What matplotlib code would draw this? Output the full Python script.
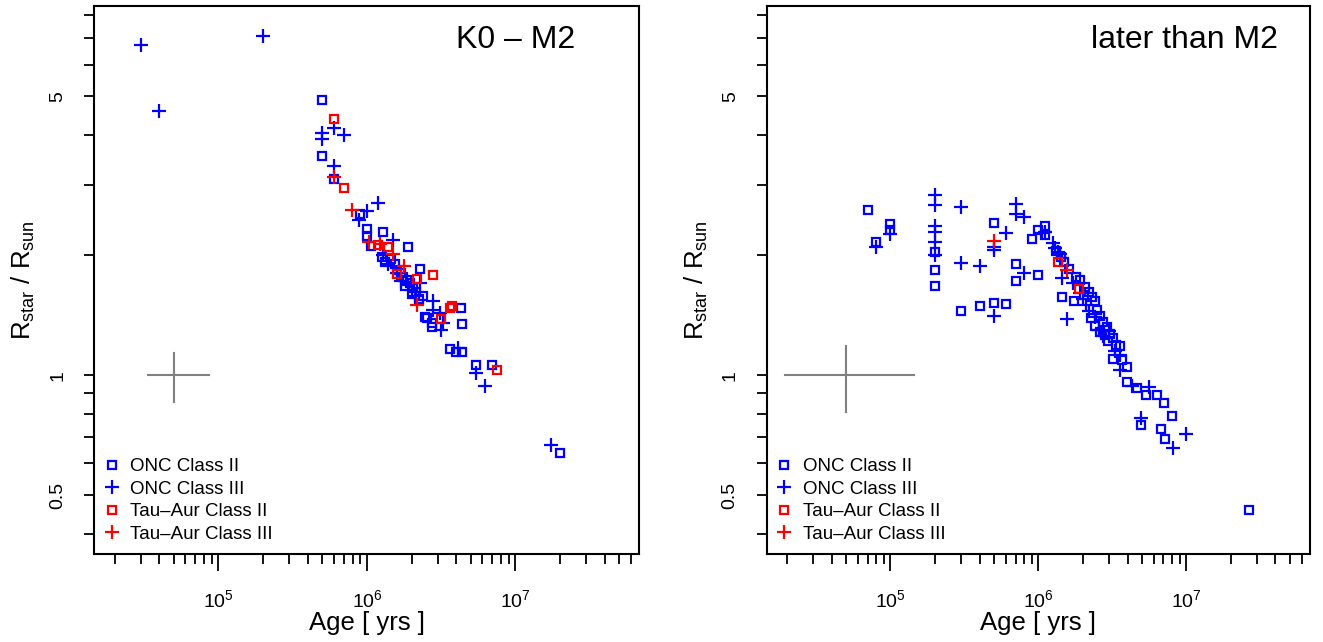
import matplotlib
matplotlib.use("Agg")
import matplotlib.pyplot as plt
from matplotlib.lines import Line2D
from matplotlib.ticker import FixedLocator, LogLocator, NullFormatter
import numpy as np

plt.rcParams['font.family'] = ['Liberation Sans', 'DejaVu Sans']
plt.rcParams['mathtext.fontset'] = 'custom'
plt.rcParams['mathtext.rm'] = 'Liberation Sans'
plt.rcParams['mathtext.it'] = 'Liberation Sans:italic'

# ---------------- panel 1 : K0 - M2 ----------------
k_onc2_age = [5.0e5, 5.0e5, 6.0e5, 9.0e5, 1.0e6, 1.0e6, 1.29e6, 1.06e6, 1.88e6, 1.26e6,
              1.32e6, 2.27e6, 1.45e6, 1.55e6, 1.60e6, 1.70e6, 1.75e6, 1.85e6, 1.95e6, 1.80e6,
              2.05e6, 2.15e6, 2.00e6, 2.38e6, 2.25e6, 2.46e6, 2.52e6, 2.73e6, 2.73e6, 4.29e6,
              4.37e6, 3.60e6, 3.97e6, 4.37e6, 5.40e6, 7.00e6, 2.00e7]
k_onc2_r = [4.89, 3.55, 3.11, 2.53, 2.33, 2.23, 2.28, 2.11, 2.10, 1.98,
            1.92, 1.85, 1.95, 1.90, 1.84, 1.80, 1.76, 1.73, 1.70, 1.67,
            1.65, 1.62, 1.60, 1.58, 1.55, 1.40, 1.39, 1.35, 1.32, 1.47,
            1.34, 1.16, 1.145, 1.14, 1.06, 1.06, 0.638]

k_onc3_age = [3.0e4, 2.0e5, 4.0e4, 6.0e5, 5.0e5, 5.0e5, 7.0e5, 6.0e5, 8.9e5, 1.0e6,
              1.19e6, 1.49e6, 1.29e6, 1.39e6, 1.60e6, 1.70e6, 1.90e6, 2.10e6, 2.28e6, 2.77e6,
              2.80e6, 3.10e6, 3.27e6, 3.16e6, 4.09e6, 5.40e6, 6.26e6, 1.74e7]
k_onc3_r = [6.72, 7.10, 4.59, 4.17, 4.04, 3.92, 4.00, 3.34, 2.45, 2.58,
            2.70, 2.18, 2.00, 1.90, 1.80, 1.72, 1.68, 1.58, 1.70, 1.53,
            1.46, 1.43, 1.35, 1.30, 1.166, 1.01, 0.938, 0.669]

k_tau2_age = [6.0e5, 7.0e5, 1.19e6, 1.39e6, 1.59e6, 2.17e6, 2.77e6, 3.65e6, 3.72e6, 3.16e6, 7.53e6]
k_tau2_r = [4.40, 2.94, 2.12, 2.10, 1.79, 1.74, 1.78, 1.47, 1.49, 1.38, 1.03]

k_tau3_age = [6.0e5, 7.9e5, 1.04e6, 1.23e6, 1.49e6, 1.78e6, 2.17e6]
k_tau3_r = [3.14, 2.59, 2.16, 2.13, 2.01, 1.88, 1.50]

# typical error bar (centre, low, high)
k_err_age = [5e4, 3.35e4, 8.6e4]
k_err_r = [1.0, 0.858, 1.139]

# ---------------- panel 2 : later than M2 ----------------
m_onc2_age = [7e4, 1e5, 1e5, 8e4, 2e5, 2e5, 2e5, 3e5, 4e5, 5e5,
              6e5, 5e5, 7e5, 7e5, 1.0e6, 9e5, 1.0e6, 1.1e6, 1.1e6, 1.45e6,
              1.74e6, 1.32e6, 1.42e6, 1.5e6, 1.6e6, 1.8e6, 1.92e6, 2.08e6, 2.19e6, 2.31e6,
              2.43e6, 2.49e6, 2.62e6, 2.25e6, 2.75e6, 2.89e6, 3.05e6, 3.2e6, 2.43e6, 2.6e6,
              2.8e6, 2.95e6, 3.37e6, 3.55e6, 3.2e6, 3.65e6, 3.96e6, 3.96e6, 4.66e6, 5.3e6,
              6.3e6, 7.1e6, 7.95e6, 4.95e6, 6.75e6, 7.2e6, 2.63e7]
m_onc2_r = [2.59, 2.39, 2.31, 2.16, 2.04, 1.83, 1.67, 1.45, 1.49, 1.52,
            1.51, 2.41, 1.90, 1.72, 1.78, 2.20, 2.31, 2.36, 2.24, 1.57,
            1.53, 2.05, 1.98, 1.92, 1.85, 1.76, 1.73, 1.66, 1.62, 1.57,
            1.53, 1.46, 1.41, 1.39, 1.36, 1.32, 1.27, 1.24, 1.33, 1.28,
            1.26, 1.22, 1.19, 1.18, 1.10, 1.09, 1.05, 0.962, 0.926, 0.891,
            0.891, 0.852, 0.789, 0.749, 0.731, 0.691, 0.458]

m_onc3_age = [8e4, 1e5, 2e5, 2e5, 2e5, 2e5, 2e5, 2e5, 3e5, 3e5,
              4e5, 5e5, 5e5, 5e5, 6e5, 7e5, 7e5, 8e5, 8e5, 1.05e6,
              1.1e6, 1.25e6, 1.3e6, 1.35e6, 1.4e6, 1.45e6, 1.45e6, 1.56e6, 1.7e6, 1.9e6,
              2.0e6, 2.1e6, 2.2e6, 2.4e6, 2.55e6, 2.75e6, 3.0e6, 3.3e6, 3.55e6, 3.55e6,
              4.3e6, 5.55e6, 4.95e6, 9.9e6, 8.1e6]
m_onc3_r = [2.10, 2.26, 2.83, 2.67, 2.36, 2.29, 2.16, 2.00, 2.64, 1.91,
            1.88, 1.41, 2.10, 2.06, 2.27, 2.69, 2.53, 2.49, 1.80, 2.27,
            2.29, 2.14, 2.08, 2.04, 2.01, 1.97, 1.75, 1.38, 1.70, 1.61,
            1.55, 1.50, 1.45, 1.40, 1.30, 1.25, 1.29, 1.15, 1.12, 1.03,
            0.94, 0.935, 0.779, 0.710, 0.655]

m_tau2_age = [1.35e6, 1.87e6]
m_tau2_r = [1.92, 1.64]

m_tau3_age = [5e5, 1.56e6]
m_tau3_r = [2.17, 1.84]

m_err_age = [5e4, 1.95e4, 1.44e5]
m_err_r = [1.0, 0.808, 1.186]

labels = ['ONC Class II', 'ONC Class III', 'Tau–Aur Class II', 'Tau–Aur Class III']

fig = plt.figure(figsize=(13.23, 6.42), dpi=100)
ax1 = fig.add_axes([0.0714, 0.1371, 0.4119, 0.8536])
ax2 = fig.add_axes([0.5797, 0.1371, 0.4104, 0.8536])

sq = dict(ls='none', marker='s', ms=6.3, mfc='none', mew=1.6)
pl = dict(ls='none', marker='+', ms=10.5, mew=1.6)


def draw_panel(ax, title, title_x, onc2, onc3, tau2, tau3, err):
    ax.plot(onc2[0], onc2[1], mec='#0000FF', **sq)
    ax.plot(onc3[0], onc3[1], color='#0000FF', **pl)
    ax.plot(tau2[0], tau2[1], mec='#FF0000', **sq)
    ax.plot(tau3[0], tau3[1], color='#FF0000', **pl)

    # error cross
    ax.plot([err[0][1], err[0][2]], [err[1][0], err[1][0]], color='#808080', lw=1.5)
    ax.plot([err[0][0], err[0][0]], [err[1][1], err[1][2]], color='#808080', lw=1.5)

    ax.set_xscale('log')
    ax.set_yscale('log')
    # R style 4% padding
    lx = np.log10([2e4, 5e7])
    d = 0.04 * (lx[1] - lx[0])
    ax.set_xlim(10 ** (lx[0] - d), 10 ** (lx[1] + d))
    ly = np.log10([0.4, 7.5])
    d = 0.04 * (ly[1] - ly[0])
    ax.set_ylim(10 ** (ly[0] - d), 10 ** (ly[1] + d))

    ax.xaxis.set_major_locator(FixedLocator([1e5, 1e6, 1e7]))
    ax.set_xticklabels([r'$10^5$', r'$10^6$', r'$10^7$'])
    ax.xaxis.set_minor_locator(LogLocator(base=10, subs=np.arange(2, 10)))
    ax.xaxis.set_minor_formatter(NullFormatter())

    yt = [0.4, 0.5, 0.6, 0.7, 0.8, 0.9, 1, 2, 3, 4, 5, 6, 7, 8]
    ax.yaxis.set_major_locator(FixedLocator(yt))
    ax.set_yticklabels(['0.5' if v == 0.5 else '1' if v == 1 else '5' if v == 5 else '' for v in yt],
                       rotation=90, va='center')
    ax.yaxis.set_minor_locator(FixedLocator([]))

    ax.tick_params(axis='x', which='major', direction='out', length=12, width=1.3, labelsize=14, pad=13)
    ax.tick_params(axis='x', which='minor', direction='out', length=7.3, width=1.3)
    ax.tick_params(axis='y', which='major', direction='out', length=7.3, width=1.3, labelsize=14, pad=13)
    for s in ax.spines.values():
        s.set_linewidth(1.5)

    ax.set_xlabel('Age [ yrs ]', fontsize=18.5, va='center')
    ax.xaxis.set_label_coords(0.5, -0.126)
    ax.set_ylabel(r'$\mathrm{R_{star}\ /\ R_{sun}}$', fontsize=18.5, va='center')
    ax.yaxis.set_label_coords(-0.13, 0.5)

    ax.text(title_x, 0.938, title, transform=ax.transAxes, ha='right', va='center', fontsize=23)

    handles = [Line2D([], [], mec='#0000FF', **sq),
               Line2D([], [], color='#0000FF', **pl),
               Line2D([], [], mec='#FF0000', **sq),
               Line2D([], [], color='#FF0000', **pl)]
    ax.legend(handles, labels, loc='lower left', bbox_to_anchor=(0.011, 0.02), frameon=False,
              fontsize=13.5, handlelength=1.2, handletextpad=0.4, labelspacing=0.29,
              borderpad=0, borderaxespad=0)


draw_panel(ax1, 'K0 – M2', 0.882,
           (k_onc2_age, k_onc2_r), (k_onc3_age, k_onc3_r),
           (k_tau2_age, k_tau2_r), (k_tau3_age, k_tau3_r), (k_err_age, k_err_r))
draw_panel(ax2, 'later than M2', 0.941,
           (m_onc2_age, m_onc2_r), (m_onc3_age, m_onc3_r),
           (m_tau2_age, m_tau2_r), (m_tau3_age, m_tau3_r), (m_err_age, m_err_r))

fig.savefig('out.png', dpi=100)
